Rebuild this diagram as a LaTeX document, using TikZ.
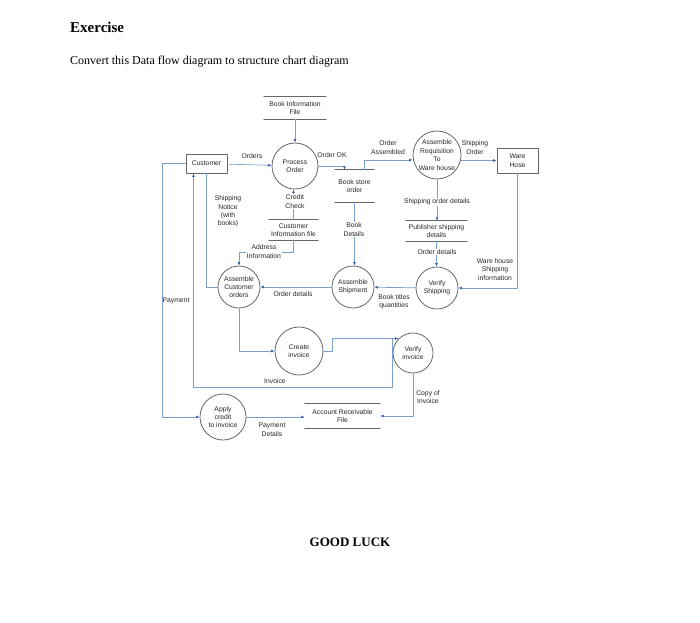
\documentclass[tikz,border=0pt]{standalone}
\usepackage{fontspec}
\setmainfont{Liberation Serif}
\newfontfamily\dfdfont{Liberation Sans}
\usetikzlibrary{arrows.meta}
\definecolor{flowblue}{HTML}{7A9FC8}
\definecolor{tipblue}{HTML}{3D62B3}
\definecolor{shapegray}{HTML}{666666}
\definecolor{labelgray}{HTML}{262626}

\begin{document}
\begin{tikzpicture}[
    x=1pt, y=-1pt,
    line cap=round,
    line join=round,
    every node/.style={font=\dfdfont\fontsize{6.8}{8.4}\selectfont, text=labelgray, align=center, inner sep=1pt},
    process/.style={circle, draw=shapegray, line width=0.8pt, inner sep=0pt},
    entity/.style={rectangle, draw=shapegray, line width=0.8pt, inner sep=0pt},
    datastore/.style={rectangle, inner sep=0pt, append after command={
        (\tikzlastnode.north west) edge[draw=shapegray, line width=0.8pt] (\tikzlastnode.north east)
        (\tikzlastnode.south west) edge[draw=shapegray, line width=0.8pt] (\tikzlastnode.south east)}},
    onflow/.style={fill=white, inner sep=0.5pt},
    flow/.style={draw=flowblue, line width=0.7pt},
    flowto/.style={flow, -{Latex[length=3.5pt,width=3pt,color=tipblue]}}
]
\useasboundingbox (0,0) rectangle (700,622);

% 1. Heading
\node[anchor=west, font=\bfseries\fontsize{15}{18}\selectfont, text=black] (title) at (69,27) {Exercise};
\node[anchor=west, font=\fontsize{12}{14}\selectfont, text=black] (task) at (69,62) {Convert this Data flow diagram to structure chart diagram};
\node[font=\bfseries\fontsize{13}{15}\selectfont, text=black] (luck) at (350,542) {GOOD LUCK};

% 2. Entities
\node[entity, minimum width=41pt, minimum height=19pt] (customer) at (206.5,163.5) {Customer};
\node[entity, minimum width=41pt, minimum height=25pt] (warehose) at (517.5,160.5) {Ware\\Hose};

% 3. Processes
\node[process, minimum size=46pt] (porder) at (295,166) {Process\\Order};
\node[process, minimum size=48pt] (asmreq) at (437,155) {Assemble\\Requisition\\To\\Ware house};
\node[process, minimum size=42pt] (asmcust) at (239,287) {Assemble\\Customer\\orders};
\node[process, minimum size=42pt] (asmship) at (353,287) {Assemble\\Shipment};
\node[process, minimum size=42pt] (vship) at (437,288) {Verify\\Shipping};
\node[process, minimum size=48pt] (cinv) at (299,351) {Create\\invoice};
\node[process, minimum size=40pt] (vinv) at (413,353) {Verify\\invoice};
\node[process, minimum size=46pt] (apply) at (223,417) {Apply\\credit\\to invoice};

% 4. Data stores
\node[datastore, minimum width=62pt, minimum height=22pt] (bookinfo) at (295,108) {Book Information\\File};
\node[datastore, minimum width=49pt, minimum height=20pt] (custinfo) at (293.5,230) {Customer\\Information file};
\node[datastore, minimum width=39pt, minimum height=32pt] (bookstore) at (354.5,186) {Book store\\order};
\node[datastore, minimum width=61pt, minimum height=20pt] (pubship) at (436.5,231) {Publisher shipping\\details};
\node[datastore, minimum width=75pt, minimum height=24pt] (acctrec) at (342.5,416) {Account Receivable\\File};

% 5. Flows
\draw[flowto] (bookinfo.south) -- (porder.north);
\draw[flowto] (customer) -- (porder);
\draw[flowto] (porder.east) -| ([xshift=-10pt]bookstore.north);
\draw[flowto] ([xshift=10pt]bookstore.north) |- ([yshift=-5pt]asmreq.west);
\draw[flowto] (asmreq.east |- warehose.west) -- (warehose.west);
\draw[flowto] (asmreq.south) -- (asmreq.south |- pubship.north);
\draw[flowto] (pubship.south) -- (pubship.south |- vship.north);
\draw[flowto] (warehose.south) |- (vship.east);
\draw[flowto] (vship) -- (asmship);
\draw[flowto] (bookstore.south) -- (bookstore.south |- asmship.north);
\draw[flowto] (asmship) -- (asmcust);
\draw[flowto] (custinfo.south) -- ++(0,12) -| (asmcust.north);
\draw[flowto] (custinfo.north) -- (custinfo.north |- porder.south);
\draw[flow] (asmcust.west) -| (customer.south);
\draw[flowto] (asmcust.south) |- (cinv.west);
\draw[flowto] (cinv.east) -- ++(9,0) |- (vinv.north west);
\draw[flowto] (vinv.north west -| vinv.west) -- ++(0,49) -| ([xshift=-13pt]customer.south);
\draw[flowto] (customer.west) -- ++(-23,0) |- (apply.west);
\draw[flowto] (apply.east) -- (apply.east -| acctrec.west);
\draw[flowto] (vinv.south) |- (acctrec.east);

% 6. Flow labels
\node (lorders) at (252,156) {Orders};
\node (lorderok) at (332,155) {Order OK};
\node (lassembled) at (388,147.5) {Order\\Assembled};
\node (lshiporder) at (475,147.5) {Shipping\\Order};
\node[onflow] (lcredit) at (295,201.5) {Credit\\Check};
\node (lnotice) at (228,211.5) {Shipping\\Notice\\(with\\books)};
\node[onflow] (lshipdet) at (437,202) {Shipping order details};
\node[onflow] (lbookdet) at (354,229.5) {Book\\Details};
\node[onflow] (laddress) at (264,251.5) {Address\\Information};
\node (lorddet) at (293,294) {Order details};
\node[onflow] (lorddetup) at (437,252) {Order details};
\node (lwareinfo) at (495,269.5) {Ware house\\Shipping\\information};
\node (ltitles) at (394,301.5) {Book titles\\quantities};
\node (lpayment) at (176,301) {Payment};
\node (linvoice) at (275,381) {Invoice};
\node (lcopy) at (428,397) {Copy of\\Invoice};
\node (lpaydet) at (272,429.5) {Payment\\Details};
\end{tikzpicture}
\end{document}
